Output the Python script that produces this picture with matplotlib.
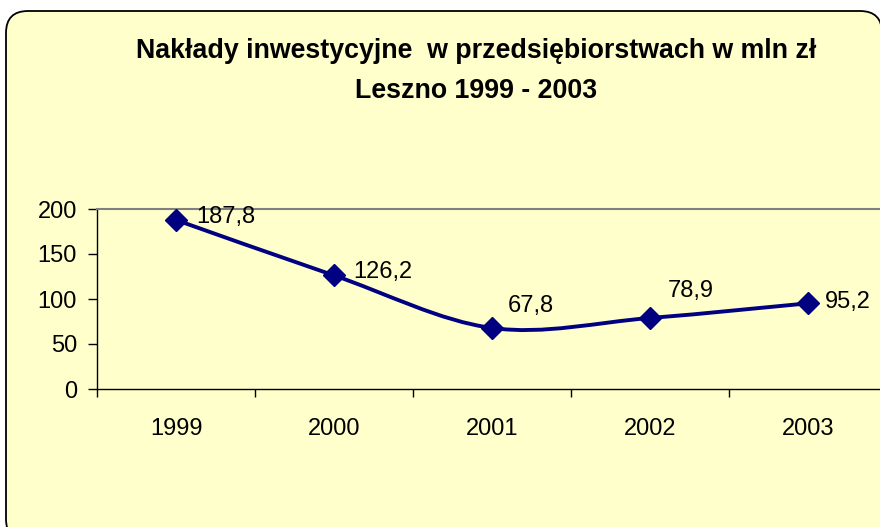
import matplotlib
matplotlib.use('Agg')
import matplotlib.pyplot as plt
from matplotlib.patches import FancyBboxPatch, PathPatch
from matplotlib.path import Path
import numpy as np

plt.rcParams['font.family'] = ['Liberation Sans', 'DejaVu Sans']

years = ['1999', '2000', '2001', '2002', '2003']
values = [187.8, 126.2, 67.8, 78.9, 95.2]
value_labels = ['187,8', '126,2', '67,8', '78,9', '95,2']
y_ticks = [0, 50, 100, 150, 200]

title_line1 = 'Nakłady inwestycyjne  w przedsiębiorstwach w mln zł'
title_line2 = 'Leszno 1999 - 2003'

# label offsets in pixels (to the right of each point)
label_offsets = [(20, 3), (19, 3), (16, 22), (18, 27), (17, 1)]

navy = '#000080'
bg = '#FFFFCC'

fig = plt.figure(figsize=(8.8, 5.27), dpi=100)
fig.patch.set_facecolor('white')

# background axes in pixel units for the rounded frame
bg_ax = fig.add_axes([0, 0, 1, 1], zorder=0)
bg_ax.set_xlim(0, 880)
bg_ax.set_ylim(527, 0)
bg_ax.axis('off')
frame = FancyBboxPatch((6, 11), 876, 530, boxstyle='round,pad=0,rounding_size=22',
                       facecolor=bg, edgecolor='black', linewidth=1.3)
bg_ax.add_patch(frame)

fig.text(0.541, 0.903, title_line1, ha='center', va='center', fontsize=19.3, fontweight='bold')
fig.text(0.541, 0.828, title_line2, ha='center', va='center', fontsize=19.3, fontweight='bold')

ax = fig.add_axes([97 / 880, (527 - 389) / 527, 790 / 880, 180 / 527], zorder=1)
ax.patch.set_alpha(0)

x = np.arange(len(years))

# smoothed line through the points (cubic bezier, excel style)
pts = np.column_stack([x, values])
verts = [pts[0]]
codes = [Path.MOVETO]
for i in range(len(pts) - 1):
    p_prev = pts[i - 1] if i > 0 else pts[i]
    p0 = pts[i]
    p1 = pts[i + 1]
    p_next = pts[i + 2] if i + 2 < len(pts) else pts[i + 1]
    c1 = p0 + (p1 - p_prev) / 6
    c2 = p1 - (p_next - p0) / 6
    verts += [c1, c2, p1]
    codes += [Path.CURVE4] * 3
ax.add_patch(PathPatch(Path(verts, codes), facecolor='none', edgecolor=navy,
                       linewidth=2.8, clip_on=False, zorder=3))
ax.plot(x, values, linestyle='none', marker='D', markersize=11.5, color=navy,
        clip_on=False, zorder=4)

for xi, v, lab, off in zip(x, values, value_labels, label_offsets):
    ax.annotate(lab, (xi, v), xytext=off, textcoords='offset pixels',
                ha='left', va='center', fontsize=17)

ax.set_xlim(-0.5, 4.5)
ax.set_ylim(0, 200)
ax.set_yticks(y_ticks)
ax.set_xticks(x)
ax.set_xticklabels(years)
ax.set_xticks(np.arange(-0.5, 5, 1), minor=True)
ax.tick_params(axis='x', which='major', length=0, pad=21, labelsize=17)
ax.tick_params(axis='x', which='minor', length=6, width=1, direction='out')
ax.tick_params(axis='y', length=6.5, width=1, pad=8, labelsize=17, direction='out')

ax.spines['right'].set_visible(False)
ax.spines['top'].set_color('#808080')
ax.spines['top'].set_linewidth(1.5)
ax.spines['left'].set_linewidth(1)
ax.spines['bottom'].set_linewidth(1)

fig.savefig('out.png', dpi=100)
